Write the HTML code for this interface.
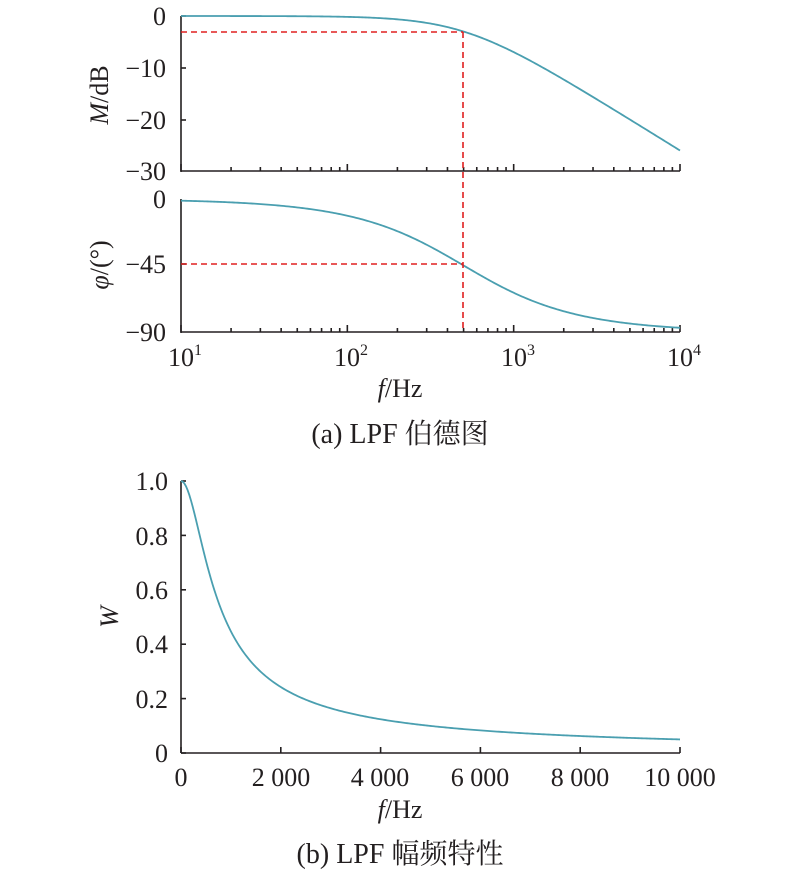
<!DOCTYPE html>
<html><head><meta charset="utf-8"><style>
html,body{margin:0;padding:0;background:#fff}
svg{display:block}
text{font-family:"Liberation Serif","Noto Serif CJK SC","Noto Sans CJK SC",serif;fill:#231f20}
</style></head><body>
<svg id="s" width="800" height="872" viewBox="0 0 800 872" xmlns="http://www.w3.org/2000/svg">
<g id="g" stroke="#231f20" stroke-width="1.6" fill="none"></g>
<path id="p1" fill="none" stroke="#4a9fb0" stroke-width="1.8"/>
<path id="p2" fill="none" stroke="#4a9fb0" stroke-width="1.8"/>
<path id="p3" fill="none" stroke="#4a9fb0" stroke-width="1.8"/>
<g stroke="#e02020" stroke-width="1.6" stroke-dasharray="6,4" fill="none">
<line x1="181" y1="32" x2="463" y2="32"/>
<line x1="463" y1="32" x2="463" y2="332"/>
<line x1="181" y1="264" x2="463" y2="264"/>
</g>
<g font-size="26" text-anchor="end">
<text x="166" y="25">0</text>
<text x="166" y="77">−10</text>
<text x="166" y="129">−20</text>
<text x="166" y="180">−30</text>
<text x="166" y="208">0</text>
<text x="166" y="273">−45</text>
<text x="166" y="341">−90</text>
</g>
<g font-size="26" text-anchor="middle">
<text x="185" y="366">10<tspan font-size="16" dy="-11">1</tspan></text>
<text x="351" y="366">10<tspan font-size="16" dy="-11">2</tspan></text>
<text x="518" y="366">10<tspan font-size="16" dy="-11">3</tspan></text>
<text x="684" y="366">10<tspan font-size="16" dy="-11">4</tspan></text>
<text x="400" y="397"><tspan font-style="italic">f</tspan>/Hz</text>
<text x="400" y="443" font-size="28">(a) LPF 伯德图</text>
</g>
<text font-size="26" text-anchor="middle" transform="translate(108,95) rotate(-90)"><tspan font-style="italic">M</tspan>/dB</text>
<text font-size="26" text-anchor="middle" transform="translate(108,265) rotate(-90)"><tspan font-style="italic">φ</tspan>/(°)</text>
<g font-size="26" text-anchor="end">
<text x="168" y="490">1.0</text>
<text x="168" y="545">0.8</text>
<text x="168" y="599">0.6</text>
<text x="168" y="653">0.4</text>
<text x="168" y="708">0.2</text>
<text x="168" y="762">0</text>
</g>
<g font-size="26" text-anchor="middle">
<text x="181" y="786">0</text>
<text x="281" y="786">2 000</text>
<text x="380" y="786">4 000</text>
<text x="480" y="786">6 000</text>
<text x="580" y="786">8 000</text>
<text x="680" y="786">10 000</text>
<text x="400" y="818"><tspan font-style="italic">f</tspan>/Hz</text>
<text x="400" y="863" font-size="28">(b) LPF 幅频特性</text>
</g>
<text font-size="26" font-style="italic" text-anchor="middle" transform="translate(118,617) rotate(-90)">W</text>
</svg>
<script>
var L=181,R=680,fc=500;
function lx(f){return L+(Math.log10(f)-1)/3*(R-L);}
var g=document.getElementById('g'),h='';
function ln(a,b,c,d){h+='<line x1="'+a+'" y1="'+b+'" x2="'+c+'" y2="'+d+'"/>';}
ln(L,16,L,172);ln(L,171,R,171);
ln(L,199,L,333);ln(L,332,R,332);
[[16],[68],[120]].forEach(function(v){ln(L,v[0],L+5,v[0]);});
ln(L,264,L+5,264);
for(var d=1;d<=3;d++){for(var k=1;k<=10;k++){var f=k*Math.pow(10,d);if(k==10&&d<3)continue;var x=lx(f);var len=(k==1||k==10)?7:4;ln(x,171,x,171-len);ln(x,332,x,332-len);}}
var B0=753,B1=481;
ln(L,B1,L,B0);ln(L,B0,R,B0);
for(var i=0;i<=5;i++){var y=B0-(B0-B1)*i/5;ln(L,y,L+5,y);var x=L+(R-L)*i/5;ln(x,B0,x,B0-6);}
g.innerHTML=h;
var p1='',p2='',p3='';
for(var i=0;i<=300;i++){var lf=1+3*i/300,f=Math.pow(10,lf),x=L+(R-L)*i/300;
var m=-10*Math.log10(1+(f/fc)*(f/fc));var y=16+(-m)/30*155;
p1+=(i?'L':'M')+x.toFixed(2)+','+y.toFixed(2);
var ph=Math.atan(f/fc)*180/Math.PI;var y2=199+ph/90*133;
p2+=(i?'L':'M')+x.toFixed(2)+','+y2.toFixed(2);
var ff=10000*i/300;var w=1/Math.sqrt(1+(ff/fc)*(ff/fc));var y3=B0-(B0-B1)*w;
p3+=(i?'L':'M')+x.toFixed(2)+','+y3.toFixed(2);}
document.getElementById('p1').setAttribute('d',p1);
document.getElementById('p2').setAttribute('d',p2);
document.getElementById('p3').setAttribute('d',p3);
</script>
</body></html>
